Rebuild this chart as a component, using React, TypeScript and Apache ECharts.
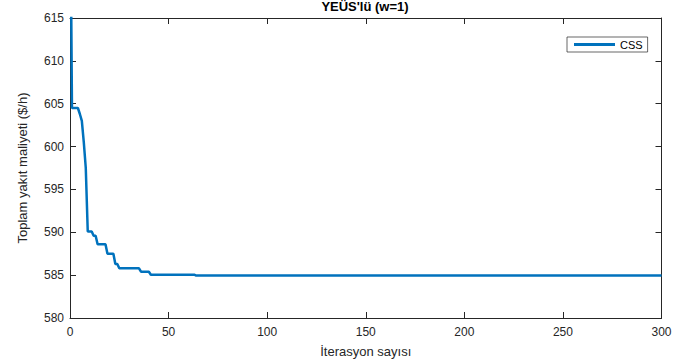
import React, { useEffect, useRef } from "react";
import * as echarts from "echarts";

const titleText = "YEÜS'lü (w=1)";
const seriesName = "CSS";
const xName = "İterasyon sayısı";
const yName = "Toplam yakıt maliyeti ($/h)";

// convergence curve: iteration index and best cost
const iterations = [0, 1, 4, 5, 6, 7, 8, 9, 11, 12, 13, 14, 17, 18, 19, 22, 23, 24, 25, 35, 36, 40, 41, 63, 64, 300];
const costs = [635, 604.5, 604.5, 603.8, 603.0, 600.5, 597.5, 590.1, 590.1, 589.6, 589.6, 588.6, 588.6, 588.6, 587.5, 587.5, 586.3, 586.3, 585.8, 585.8, 585.4, 585.4, 585.05, 585.05, 584.95, 584.95];

const xMin = 0, xMax = 300, xStep = 50;
const yMin = 580, yMax = 615, yStep = 5;

const FONT = "'Liberation Sans', Arial, Helvetica, sans-serif";
const AX = "#262626";

export default function App() {
  const ref = useRef<HTMLDivElement>(null);
  useEffect(() => {
    if (!ref.current) return;
    const chart = echarts.init(ref.current, null, { renderer: "svg" });
    const data = iterations.map((x, i) => [x, costs[i]]);
    const baseX = {
      type: "value",
      min: xMin,
      max: xMax,
      interval: xStep,
      axisLine: { show: true, onZero: false, lineStyle: { color: AX, width: 1 } },
      axisTick: { show: true, inside: true, length: 6, lineStyle: { color: AX } },
      splitLine: { show: false },
    };
    const baseY = {
      type: "value",
      min: yMin,
      max: yMax,
      interval: yStep,
      axisLine: { show: true, onZero: false, lineStyle: { color: AX, width: 1 } },
      axisTick: { show: true, inside: true, length: 6, lineStyle: { color: AX } },
      splitLine: { show: false },
    };
    chart.setOption({
      animation: false,
      backgroundColor: "#ffffff",
      textStyle: { fontFamily: FONT },
      title: {
        text: titleText,
        left: 365,
        textAlign: "center",
        top: 0,
        padding: 0,
        textStyle: { fontFamily: FONT, fontSize: 13, fontWeight: "bold", color: "#000" },
      },
      legend: {
        left: 567,
        top: 37,
        padding: [2, 5, 2, 7],
        backgroundColor: "#fff",
        borderColor: AX,
        borderWidth: 0.7,
        borderRadius: 0,
        itemWidth: 41,
        itemHeight: 3,
        data: [{ name: seriesName, icon: "rect" }],
        textStyle: { fontFamily: FONT, fontSize: 11, color: "#000" },
      },
      grid: { left: 70, top: 18, width: 591.5, height: 300, containLabel: false },
      xAxis: [
        {
          ...baseX,
          position: "bottom",
          name: xName,
          nameLocation: "middle",
          nameGap: 27,
          nameTextStyle: { fontFamily: FONT, fontSize: 13, color: AX },
          axisLabel: { show: true, margin: 8, fontFamily: FONT, fontSize: 12, color: AX },
        },
        { ...baseX, position: "top", axisLabel: { show: false } },
      ],
      yAxis: [
        {
          ...baseY,
          position: "left",
          name: yName,
          nameLocation: "middle",
          nameGap: 41,
          nameTextStyle: { fontFamily: FONT, fontSize: 13, color: AX },
          axisLabel: { show: true, margin: 6, fontFamily: FONT, fontSize: 12, color: AX },
        },
        { ...baseY, position: "right", axisLabel: { show: false } },
      ],
      series: [
        {
          name: seriesName,
          type: "line",
          data,
          showSymbol: false,
          symbol: "none",
          clip: true,
          color: "#0072BD",
          lineStyle: { color: "#0072BD", width: 2.5 },
          xAxisIndex: 0,
          yAxisIndex: 0,
        },
      ],
    });
    return () => chart.dispose();
  }, []);
  return (
    <div
      ref={ref}
      style={{ position: "fixed", left: 0, top: 0, width: 698, height: 363, background: "#fff" }}
    />
  );
}
